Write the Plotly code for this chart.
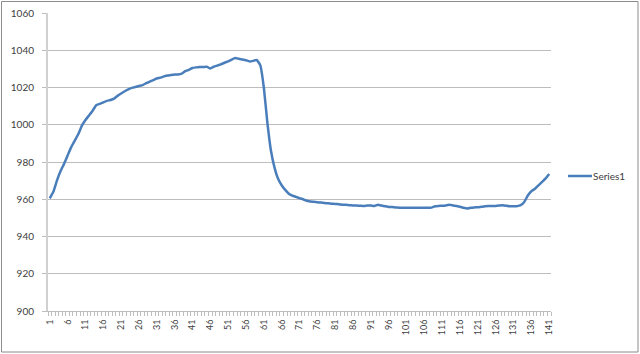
import plotly.graph_objects as go

categories = list(range(1, 142))
series1 = [
    960.5, 964, 970, 975, 979, 983.5, 988, 991.5, 995, 999.5,
    1002.5, 1005, 1007.5, 1010.5, 1011.2, 1012, 1012.8, 1013.3, 1014, 1015.5,
    1016.8, 1018, 1019, 1019.8, 1020.3, 1020.8, 1021.3, 1022.3, 1023.2, 1024,
    1024.8, 1025.3, 1026, 1026.4, 1026.7, 1027, 1027, 1027.5, 1028.8, 1029.5,
    1030.5, 1030.8, 1031, 1031, 1031.2, 1030.2, 1031.2, 1031.8, 1032.5, 1033.3,
    1034, 1035, 1035.8, 1035.4, 1035, 1034.6, 1034, 1034.3, 1034.8, 1032,
    1020, 1001, 986, 977, 971, 967.5, 965, 963, 962, 961.3,
    960.6, 960, 959.2, 958.8, 958.6, 958.4, 958.2, 958, 957.8, 957.6,
    957.5, 957.3, 957.1, 957, 956.8, 956.7, 956.6, 956.5, 956.4, 956.6,
    956.6, 956.4, 957, 956.6, 956.2, 955.9, 955.8, 955.6, 955.5, 955.5,
    955.4, 955.4, 955.4, 955.4, 955.5, 955.5, 955.5, 955.5, 956.2, 956.4,
    956.5, 956.7, 957, 956.7, 956.4, 956, 955.4, 955, 955.4, 955.6,
    955.7, 956, 956.2, 956.4, 956.4, 956.4, 956.6, 956.8, 956.5, 956.2,
    956.2, 956.3, 956.8, 958.5, 962, 964.3, 965.6, 967.5, 969.3, 971.2,
    973.6,
]
series_name = "Series1"
x_tick_labels = [str(v) for v in range(1, 142, 5)]
y_ticks = [900, 920, 940, 960, 980, 1000, 1020, 1040, 1060]

W, H = 640, 354
L, R, T, B = 48, 89, 13, 43
pw, ph = W - L - R, H - T - B
LINE_COLOR = "#4a7ebb"


def px_x(px):
    return (px - L) / pw


def px_y(py):
    return (H - B - py) / ph


fig = go.Figure()
fig.add_trace(go.Scatter(
    x=categories, y=series1, mode="lines", name=series_name,
    line=dict(color=LINE_COLOR, width=2.5, shape="spline", smoothing=0.3),
    showlegend=False,
))

font = "Lato, Liberation Sans, sans-serif"
fig.update_layout(
    width=W, height=H,
    margin=dict(l=L, r=R, t=T, b=B, pad=0, autoexpand=False),
    paper_bgcolor="white", plot_bgcolor="white",
    font=dict(family=font, size=10, color="#404040"),
    showlegend=False,
    xaxis=dict(
        range=[0.5, 141.5],
        tickmode="array",
        tickvals=[int(s) for s in x_tick_labels],
        ticktext=x_tick_labels,
        tickangle=-90,
        ticks="",
        showgrid=False,
        showline=True, linecolor="#bdbdbd", linewidth=1,
        minor=dict(ticks="outside", tick0=0.5, dtick=1, ticklen=4,
                   tickcolor="#bdbdbd", showgrid=False),
        tickfont=dict(size=9, color="#404040"),
        ticklabelstandoff=4,
        zeroline=False,
        automargin=False,
        fixedrange=True,
    ),
    yaxis=dict(
        range=[900, 1060],
        tickmode="array", tickvals=y_ticks,
        ticktext=[str(v) for v in y_ticks],
        ticks="outside", ticklen=4, tickcolor="#bdbdbd",
        showgrid=True, gridcolor="#bdbdbd", gridwidth=1,
        showline=True, linecolor="#d0d0d0", linewidth=2,
        tickfont=dict(size=10, color="#404040"),
        ticklabelstandoff=6,
        zeroline=False,
        automargin=False,
        fixedrange=True,
    ),
)

# outer chart border
fig.add_shape(
    type="rect", xref="paper", yref="paper",
    x0=px_x(1.5), x1=px_x(638),
    y0=px_y(352), y1=px_y(1.5),
    line=dict(color="#8c8c8c", width=1), fillcolor="rgba(0,0,0,0)",
    layer="below",
)

# legend (line sample + label)
fig.add_shape(
    type="line", xref="paper", yref="paper",
    x0=px_x(568), x1=px_x(592), y0=px_y(176), y1=px_y(176),
    line=dict(color=LINE_COLOR, width=2.5),
)
fig.add_annotation(
    xref="paper", yref="paper", x=px_x(592), y=px_y(176),
    xanchor="left", yanchor="middle", text=series_name, showarrow=False,
    font=dict(size=10, color="#404040"), borderpad=0,
)

fig.write_html("out.html")
